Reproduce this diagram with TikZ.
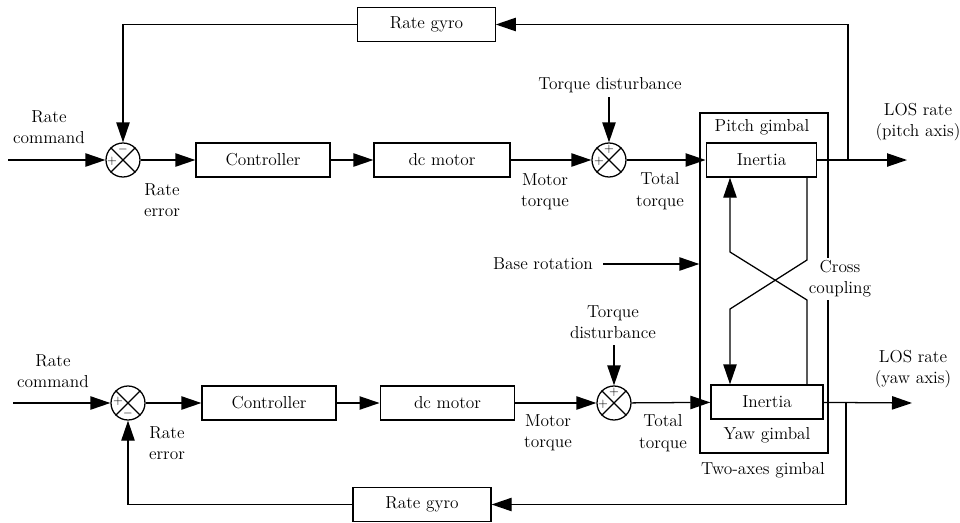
\documentclass[tikz,border=0pt]{standalone}
\usetikzlibrary{arrows.meta,calc}
\begin{document}
\begin{tikzpicture}[x=0.75pt,y=-0.75pt, line width=0.95pt,
  every node/.style={font=\fontsize{13}{16}\selectfont},
  blk/.style={draw, minimum height=25.5pt, inner sep=0pt, align=center},
  sumj/.style={draw, circle, minimum size=25.5pt, inner sep=0pt},
  sgn/.style={inner sep=0pt, font=\fontsize{9.5}{9.5}\selectfont},
  lab/.style={align=center, inner sep=0pt},
  arr/.style={-{Triangle[length=15pt,width=10pt]}}]
\useasboundingbox (0,0) rectangle (960,522);
% blocks
\node[blk, minimum width=103pt, minimum height=26pt] (rg1) at (426.5,24.5) {Rate gyro};
\node[sumj] (s1) at (123,160) {};
\node[blk, minimum width=100.5pt] (c1) at (263,160) {Controller};
\node[blk, minimum width=102pt] (m1) at (442,160) {dc motor};
\node[sumj] (s2) at (609,160) {};
\node[draw, minimum width=96pt, minimum height=255pt, inner sep=0pt] (gim) at (764,283) {};
\node[blk, minimum width=83pt] (in1) at (761.5,160) {Inertia};
\node[blk, minimum width=84pt] (in2) at (767,402) {Inertia};
\node[sumj] (s3) at (128,403) {};
\node[blk, minimum width=100.5pt] (c2) at (269,403) {Controller};
\node[blk, minimum width=101pt] (m2) at (447.5,403) {dc motor};
\node[sumj] (s4) at (614,403) {};
\node[blk, minimum width=103.5pt, minimum height=25pt] (rg2) at (422,504.5) {Rate gyro};
% crosses in summing junctions
\foreach \s in {s1,s2,s3,s4}{
  \draw (\s.north west) -- (\s.south east);
  \draw (\s.north east) -- (\s.south west);
}
\node[sgn] at ($(s1)+(-11,1)$) {+};
\node[sgn] at ($(s1)+(0,-11)$) {$-$};
\node[sgn] at ($(s2)+(-10,1)$) {+};
\node[sgn] at ($(s2)+(0,-11)$) {+};
\node[sgn] at ($(s3)+(-10,-2)$) {+};
\node[sgn] at ($(s3)+(0,10)$) {$-$};
\node[sgn] at ($(s4)+(-11,1)$) {+};
\node[sgn] at ($(s4)+(0,-11)$) {+};
% labels
\node[lab] (rc1) at (49,127) {Rate\\command};
\node[lab] (re1) at (162,200) {Rate\\error};
\node[lab] (mt1) at (545,192) {Motor\\torque};
\node[lab] (tt1) at (660,191) {Total\\torque};
\node[lab] (td1) at (610,85) {Torque disturbance};
\node[lab] (pg) at (762,127) {Pitch gimbal};
\node[lab] (los1) at (918,122) {LOS rate\\(pitch axis)};
\node[lab] (br) at (543,264) {Base rotation};
\node[lab, fill=white, inner sep=2pt] (cc) at (840,279) {Cross\\coupling};
\node[lab] (rc2) at (53,371) {Rate\\command};
\node[lab] (re2) at (167,443) {Rate\\error};
\node[lab] (mt2) at (548,433) {Motor\\torque};
\node[lab] (tt2) at (663,433) {Total\\torque};
\node[lab] (td2) at (613,322) {Torque\\disturbance};
\node[lab] (yg) at (767,435) {Yaw gimbal};
\node[lab] (tg) at (763,470) {Two-axes gimbal};
\node[lab] (los2) at (913,369) {LOS rate\\(yaw axis)};
% free ends
\coordinate (rcin1) at (8,160);
\coordinate (rcin2) at (13,403);
\coordinate (o1) at (907,160);
\coordinate (o2) at (912,403);
\coordinate (j1) at (848,160);
\coordinate (j2) at (846,403);
\coordinate (td1a) at (609,97);
\coordinate (td2a) at (614,345);
\coordinate (bra) at (603,264);
\coordinate (xr1) at (807,300);
\coordinate (xl1) at (730,252);
\coordinate (xr2) at (807,260);
\coordinate (xl2) at (730,309);
% top loop
\draw[arr] (rcin1) -- (s1);
\draw[arr] (s1) -- (c1);
\draw[arr] (c1) -- (m1);
\draw[arr] (m1) -- (s2);
\draw[arr] (s2) -- (in1);
\draw[arr] (in1) -- (o1);
\draw[arr] (j1) |- (rg1.east);
\draw[arr] (rg1.west) -| (s1.north);
\draw[arr] (td1a) -- (s2);
% bottom loop
\draw[arr] (rcin2) -- (s3);
\draw[arr] (s3) -- (c2);
\draw[arr] (c2) -- (m2);
\draw[arr] (m2) -- (s4);
\draw[arr] (s4) -- (in2);
\draw[arr] (in2) -- (o2);
\draw[arr] (j2) |- (rg2.east);
\draw[arr] (rg2.west) -| (s3.south);
\draw[arr] (td2a) -- (s4);
% base rotation
\draw[arr] (bra) -- (bra -| gim.west);
% cross coupling
\draw[arr] (xr1 |- in2.north) -- (xr1) -- (xl1) -- (xl1 |- in1.south);
\draw[arr] (xr2 |- in1.south) -- (xr2) -- (xl2) -- (xl2 |- in2.north);
\end{tikzpicture}
\end{document}
